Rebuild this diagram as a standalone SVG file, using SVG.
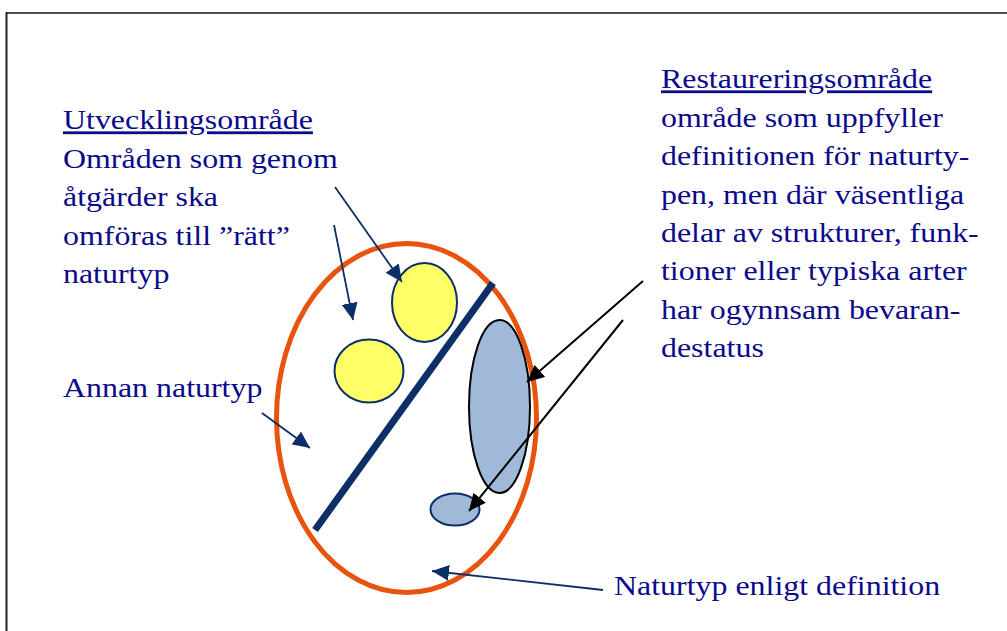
<svg xmlns="http://www.w3.org/2000/svg" width="1007" height="631" viewBox="0 0 1007 631">
<defs>
<style>
.t{font-family:"Liberation Serif","Times New Roman",serif;font-size:28px;fill:#0a0a8a}
.u{text-decoration:underline}
.nav{stroke:#0b2f66;stroke-width:1.8;fill:none}
.blk{stroke:#000;stroke-width:2;fill:none}
.yel{fill:#ffff66;stroke:#0b2f66;stroke-width:2}
</style>
<marker id="ah-navy" markerUnits="userSpaceOnUse" markerWidth="18" markerHeight="16" viewBox="0 0 18 16" refX="17" refY="8" orient="auto">
<path d="M0,0 L17,8 L0,16 z" fill="#0b2f66"/>
</marker>
<marker id="ah-black" markerUnits="userSpaceOnUse" markerWidth="18" markerHeight="16" viewBox="0 0 18 16" refX="17" refY="8" orient="auto">
<path d="M0,0 L17,8 L0,16 z" fill="#000"/>
</marker>
</defs>
<rect width="1007" height="631" fill="#fff"/>
<g id="frame">
<line x1="6" y1="13" x2="1007" y2="13" stroke="#4d4d4d" stroke-width="2"/>
<line x1="6.5" y1="12" x2="6.5" y2="631" stroke="#222" stroke-width="2"/>
</g>
<g id="naturtyp-ellipse">
<ellipse cx="406.5" cy="418" rx="130" ry="174.5" fill="none" stroke="#e8530e" stroke-width="5"/>
</g>
<g id="grans">
<line x1="493" y1="283" x2="315" y2="530" stroke="#0b2f66" stroke-width="7"/>
</g>
<g id="utv-1"><ellipse class="yel" cx="424.5" cy="302.5" rx="32.5" ry="39.5"/></g>
<g id="utv-2"><ellipse class="yel" cx="369" cy="371" rx="34.5" ry="31.5"/></g>
<g id="rest-1"><ellipse cx="499.5" cy="406.5" rx="30.5" ry="86.5" fill="#a1b9d8" stroke="#000" stroke-width="2"/></g>
<g id="rest-2"><ellipse cx="455" cy="509.5" rx="24.5" ry="16" fill="#a1b9d8" stroke="#0b2f66" stroke-width="2"/></g>
<g id="connectors">
<line class="nav" x1="334" y1="225" x2="353" y2="320" marker-end="url(#ah-navy)"/>
<line class="nav" x1="335" y1="187" x2="402" y2="282" marker-end="url(#ah-navy)"/>
<line class="nav" x1="262" y1="413" x2="310" y2="448" marker-end="url(#ah-navy)"/>
<line class="nav" x1="603" y1="590" x2="432" y2="571" marker-end="url(#ah-navy)"/>
<line class="blk" x1="643" y1="281" x2="527" y2="382" marker-end="url(#ah-black)"/>
<line class="blk" x1="623" y1="320" x2="469" y2="511" marker-end="url(#ah-black)"/>
</g>
<g id="label-utveckling">
<text class="t" transform="translate(63,0) scale(1.14,1)">
<tspan class="u" x="0" y="129.5">Utvecklingsområde</tspan>
<tspan x="0" y="168">Områden som genom</tspan>
<tspan x="0" y="206.5">åtgärder ska</tspan>
<tspan x="0" y="245">omföras till ”rätt”</tspan>
<tspan x="0" y="283.5">naturtyp</tspan>
</text>
</g>
<g id="label-annan">
<text class="t" transform="translate(63,0) scale(1.14,1)"><tspan x="0" y="397.5">Annan naturtyp</tspan></text>
</g>
<g id="label-restaurering">
<text class="t" transform="translate(661,0) scale(1.14,1)">
<tspan class="u" x="0" y="88.5">Restaureringsområde</tspan>
<tspan x="0" y="126.9">område som uppfyller</tspan>
<tspan x="0" y="165.2">definitionen för naturty-</tspan>
<tspan x="0" y="203.6">pen, men där väsentliga</tspan>
<tspan x="0" y="241.9">delar av strukturer, funk-</tspan>
<tspan x="0" y="280.3">tioner eller typiska arter</tspan>
<tspan x="0" y="318.6">har ogynnsam bevaran-</tspan>
<tspan x="0" y="357">destatus</tspan>
</text>
</g>
<g id="label-definition">
<text class="t" transform="translate(614,0) scale(1.14,1)"><tspan x="0" y="595">Naturtyp enligt definition</tspan></text>
</g>
</svg>
